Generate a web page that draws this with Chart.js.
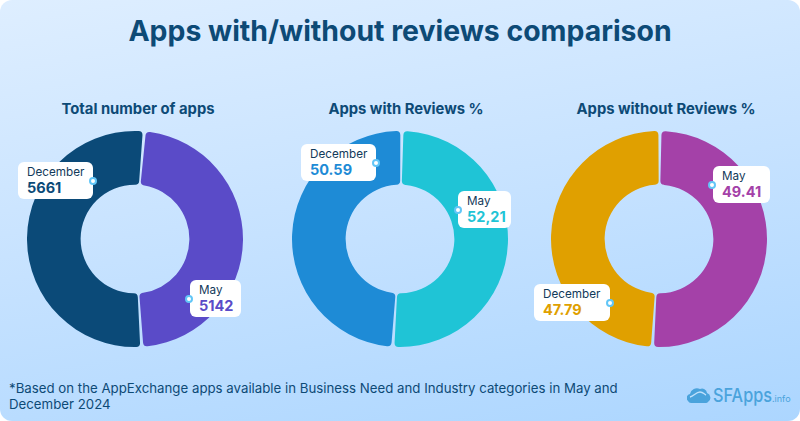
<!DOCTYPE html>
<html>
<head>
<meta charset="utf-8">
<script src="https://cdn.jsdelivr.net/npm/chart.js@4"></script>
<style>
html,body{margin:0;padding:0;background:#fff;}
#page{position:relative;width:800px;height:421px;overflow:hidden;border-radius:12px;
  background:linear-gradient(170deg,#deeeff 0%,#c6e2ff 50%,#acd6ff 100%);
  font-family:Inter,"Noto Sans",sans-serif;color:#0d4a76;}
#title{position:absolute;left:0;width:800px;top:13px;text-align:center;font-size:28.4px;font-weight:700;}
.sub{position:absolute;top:100px;text-align:center;font-size:14.8px;font-weight:700;width:260px;}
canvas{position:absolute;}
.tag{position:absolute;background:#fff;border-radius:6px;height:37px;box-sizing:border-box;padding:3px 0 0 9px;color:#123a5a;font-size:11.7px;line-height:14px;}
.tag b{display:block;font-size:14.5px;line-height:17px;font-weight:700;}
.dot{position:absolute;width:4px;height:4px;border-radius:50%;background:#fff;border:2px solid #62c6f7;}
#note{position:absolute;left:9px;top:380px;width:625px;font-size:13.25px;line-height:16px;}
#logo{position:absolute;left:687px;top:386px;}
</style>
</head>
<body>
<div id="page">
  <div id="title">Apps with/without reviews comparison</div>
  <div class="sub" style="left:8px">Total number of apps</div>
  <div class="sub" style="left:276px">Apps with Reviews %</div>
  <div class="sub" style="left:536px">Apps without Reviews %</div>
  <canvas id="c0" width="216" height="216" style="left:27px;top:131px"></canvas>
  <canvas id="c1" width="216" height="216" style="left:292px;top:131px"></canvas>
  <canvas id="c2" width="216" height="216" style="left:551px;top:131px"></canvas>
  <div id="tags"></div>
  <div id="note">*Based on the AppExchange apps available in Business Need and Industry categories in May and December 2024</div>
  <svg id="logo" width="110" height="28" viewBox="0 0 110 28">
    <path d="M1 15a4 4 0 0 1 2-7 7 7 0 0 1 10-5 5 5 0 0 1 7 4 5 5 0 0 1 1 9 4 4 0 0 1-2 1H4a4 4 0 0 1-3-2z" fill="#4aa3dc"/>
    <path d="M3 11c4-1 6-5 10-5 3 0 4 2 6 3" fill="none" stroke="#bfe0fb" stroke-width="1.4"/>
    <text x="26" y="16" font-family="Inter,sans-serif" font-size="19" font-weight="500" fill="#4aa3dc" textLength="59" lengthAdjust="spacingAndGlyphs">SFApps</text>
    <text x="85" y="16" font-family="Inter,sans-serif" font-size="9" fill="#4aa3dc">.info</text>
  </svg>
</div>
<script>
const categories = ['May', 'December'];
const chartIds = ['c0', 'c1', 'c2'];
const mayValues = [5142, 52.21, 49.41];
const decemberValues = [5661, 50.59, 47.79];
const mayText = ['5142', '52,21', '49.41'];
const decemberText = ['5661', '50.59', '47.79'];
const mayColors = ['#5a4bc8', '#1fc4d6', '#a441a8'];
const decemberColors = ['#0b4a78', '#1e8bd6', '#e0a000'];
const startAngles = [5, 1, 0.5];

chartIds.forEach((id, i) => {
    new Chart(document.getElementById(id), {
        type: 'doughnut',
        data: {
            labels: categories,
            datasets: [{
                data: [mayValues[i], decemberValues[i]],
                backgroundColor: [mayColors[i], decemberColors[i]],
                borderWidth: 0,
                borderRadius: 4,
                spacing: 1.5
            }]
        },
        options: {
            responsive: false,
            animation: false,
            cutout: '50%',
            rotation: startAngles[i],
            plugins: { legend: { display: false }, tooltip: { enabled: false } }
        }
    });
});

// callouts: [chart, category, left, top, width, dot x, dot y]
const tagPlaces = [
    [0, 1, 18, 162, 75, 93, 181],
    [0, 0, 190, 280, 51, 189, 299],
    [1, 1, 301, 144, 75, 376, 163],
    [1, 0, 458, 191, 53, 458, 210],
    [2, 1, 534, 284, 76, 610, 303],
    [2, 0, 713, 166, 57, 712, 185]
];
const tags = document.getElementById('tags');
tagPlaces.forEach(([c, cat, x, y, w, dx, dy]) => {
    const t = document.createElement('div');
    t.className = 'tag';
    t.style.cssText = `left:${x}px;top:${y}px;width:${w}px`;
    const b = document.createElement('b');
    b.innerText = cat === 0 ? mayText[c] : decemberText[c];
    b.style.color = cat === 0 ? mayColors[c] : decemberColors[c];
    t.append(categories[cat], b);
    tags.appendChild(t);
    const d = document.createElement('div');
    d.className = 'dot';
    d.style.cssText = `left:${dx - 4}px;top:${dy - 4}px`;
    tags.appendChild(d);
});
</script>
</body>
</html>
